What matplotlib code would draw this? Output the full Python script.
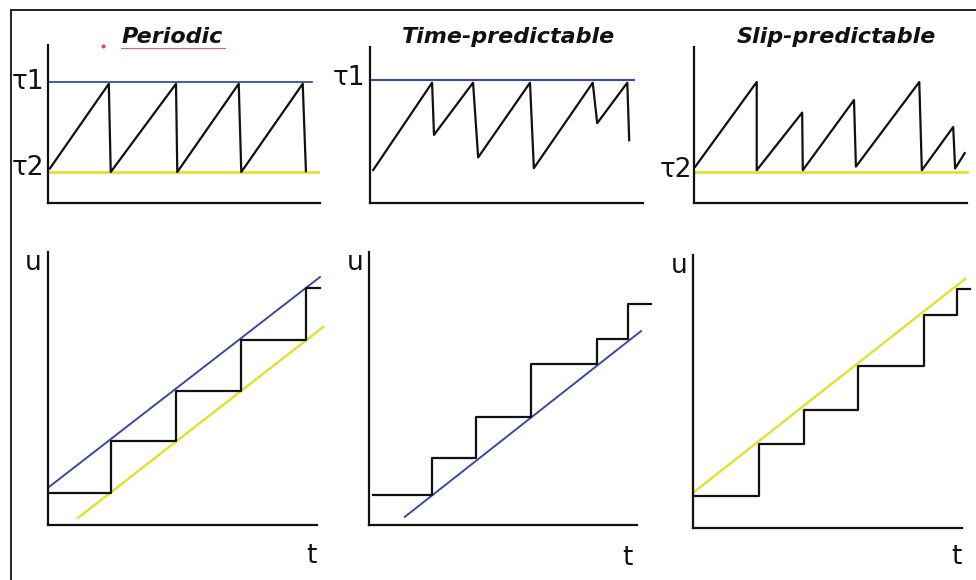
import matplotlib.pyplot as plt
from matplotlib.lines import Line2D

# time in units of the periodic recurrence interval, stress normalised (tau2 = 0, tau1 = 1),
# slip in units of one event's slip

# stress histories (polyline vertices)
periodic_t = [0.03, 0.95, 0.98, 2.0, 2.02, 2.98, 3.02, 3.98, 4.03]
periodic_tau = [0.04, 0.98, 0.0, 0.98, 0.0, 0.98, 0.0, 0.98, 0.01]

timepred_t = [0.05, 0.97, 1.0, 1.61, 1.69, 2.5, 2.56, 3.48, 3.55, 4.02, 4.05]
timepred_tau = [0.0, 0.97, 0.39, 0.97, 0.14, 0.97, 0.02, 0.97, 0.52, 0.97, 0.33]

slippred_t = [0.02, 0.98, 0.98, 1.69, 1.70, 2.5, 2.53, 3.52, 3.56, 4.05, 4.08, 4.23]
slippred_tau = [0.06, 1.0, 0.02, 0.66, 0.02, 0.8, 0.06, 1.0, 0.02, 0.5, 0.04, 0.21]

# slip histories (staircase vertices)
periodic_slip_t = [0, 0.98, 0.98, 2.0, 2.0, 3.02, 3.02, 4.03, 4.03, 4.25]
periodic_slip_u = [0.63, 0.63, 1.65, 1.65, 2.63, 2.63, 3.63, 3.63, 4.65, 4.65]

timepred_slip_t = [0.06, 0.98, 0.98, 1.67, 1.67, 2.53, 2.53, 3.56, 3.56, 4.05, 4.05, 4.41]
timepred_slip_u = [0.59, 0.59, 1.31, 1.31, 2.12, 2.12, 3.16, 3.16, 3.65, 3.65, 4.33, 4.33]

slippred_slip_t = [0, 1.03, 1.03, 1.73, 1.73, 2.58, 2.58, 3.61, 3.61, 4.13, 4.13, 4.33]
slippred_slip_u = [0.63, 0.63, 1.65, 1.65, 2.31, 2.31, 3.18, 3.18, 4.18, 4.18, 4.69, 4.69]

# reference lines (start / end points)
periodic_upper_t = [0, 4.25]
periodic_upper_u = [0.73, 4.86]
periodic_lower_t = [0.47, 4.3]
periodic_lower_u = [0.14, 3.88]
timepred_line_t = [0.56, 4.25]
timepred_line_u = [0.16, 3.80]
slippred_line_t = [0, 4.25]
slippred_line_u = [0.69, 4.88]

# stress level lines (extent in time)
tau1_end = [4.12, 4.12]
tau2_end = [4.22, 4.27]

titles = ["Periodic", "Time-predictable", "Slip-predictable"]

BLUE = "#3b4a9c"
YELLOW = "#e3e03a"
W, H = 976, 580

fig = plt.figure(figsize=(9.76, 5.8), dpi=100)


def px_axes(x0, y0, x1, y1, ylim):
    ax = fig.add_axes([x0 / W, 1 - y1 / H, (x1 - x0) / W, (y1 - y0) / H])
    ax.set_xlim(0, (x1 - x0) / 64)
    ax.set_ylim(*ylim)
    for s in ["top", "right"]:
        ax.spines[s].set_visible(False)
    for s in ["left", "bottom"]:
        ax.spines[s].set_linewidth(1.6)
        ax.spines[s].set_color("#111111")
    ax.set_xticks([])
    ax.set_yticks([])
    ax.patch.set_alpha(0)
    return ax


label_font = dict(fontsize=19, family="DejaVu Sans", color="#111111")
black = dict(color="#111111", lw=1.6, clip_on=False)

# top row: stress
ax1 = px_axes(48, 45, 320, 203, (-0.344, 1.411))
ax2 = px_axes(370, 47, 643, 203, (-0.367, 1.367))
ax3 = px_axes(694, 47, 967, 203, (-0.344, 1.389))

ax1.plot([0, tau1_end[0]], [1, 1], color=BLUE, lw=1.3, clip_on=False)
ax1.plot([0, tau2_end[0]], [0, 0], color=YELLOW, lw=2.0, clip_on=False)
ax1.plot(periodic_t, periodic_tau, **black)
ax1.text(-0.06, 1, "τ1", ha="right", va="center", **label_font)
ax1.text(-0.06, 0.05, "τ2", ha="right", va="center", **label_font)

ax2.plot([0, tau1_end[1]], [1, 1], color=BLUE, lw=1.5, clip_on=False)
ax2.plot(timepred_t, timepred_tau, **black)
ax2.text(-0.08, 1.02, "τ1", ha="right", va="center", **label_font)

ax3.plot([0, tau2_end[1]], [0, 0], color=YELLOW, lw=2.0, clip_on=False)
ax3.plot(slippred_t, slippred_tau, **black)
ax3.text(-0.03, 0.02, "τ2", ha="right", va="center", **label_font)

title_x = [172, 509, 836]
for name, x in zip(titles, title_x):
    fig.text(x / W, 1 - 37 / H, name, ha="center", va="center", fontsize=16,
             fontweight="bold", fontstyle="italic", family="DejaVu Sans", color="#111111")

# spell-check underline and stray dot under "Periodic"
fig.add_artist(Line2D([121 / W, 225 / W], [1 - 48 / H, 1 - 48 / H], color="#e06060", lw=0.8))
fig.add_artist(Line2D([103 / W], [1 - 46 / H], marker="o", ms=2, color="#e05050"))

# bottom row: slip
ax4 = px_axes(48, 252, 317, 525, (0, 5.35))
ax5 = px_axes(369, 252, 637, 525, (0, 5.35))
ax6 = px_axes(693, 255, 962, 528, (0, 5.35))

ax4.plot(periodic_upper_t, periodic_upper_u, color=BLUE, lw=1.4, clip_on=False)
ax4.plot(periodic_lower_t, periodic_lower_u, color=YELLOW, lw=1.8, clip_on=False)
ax4.plot(periodic_slip_t, periodic_slip_u, **black)

ax5.plot(timepred_line_t, timepred_line_u, color=BLUE, lw=1.4, clip_on=False)
ax5.plot(timepred_slip_t, timepred_slip_u, **black)

ax6.plot(slippred_line_t, slippred_line_u, color=YELLOW, lw=1.8, clip_on=False)
ax6.plot(slippred_slip_t, slippred_slip_u, **black)

for ax, dx in [(ax4, -0.025), (ax5, -0.02), (ax6, -0.02)]:
    ax.text(dx, 0.96, "u", ha="right", va="center", transform=ax.transAxes, **label_font)
ax4.text(1.0, -0.115, "t", ha="right", va="center", transform=ax4.transAxes, **label_font)
ax5.text(0.985, -0.12, "t", ha="right", va="center", transform=ax5.transAxes, **label_font)
ax6.text(1.0, -0.105, "t", ha="right", va="center", transform=ax6.transAxes, **label_font)

# frame (left and top edges)
fig.add_artist(Line2D([11 / W, 11 / W], [0, 1 - 10 / H], color="#222222", lw=1.4))
fig.add_artist(Line2D([11 / W, 1], [1 - 10 / H, 1 - 10 / H], color="#222222", lw=1.4))

fig.savefig("out.png", dpi=100)
